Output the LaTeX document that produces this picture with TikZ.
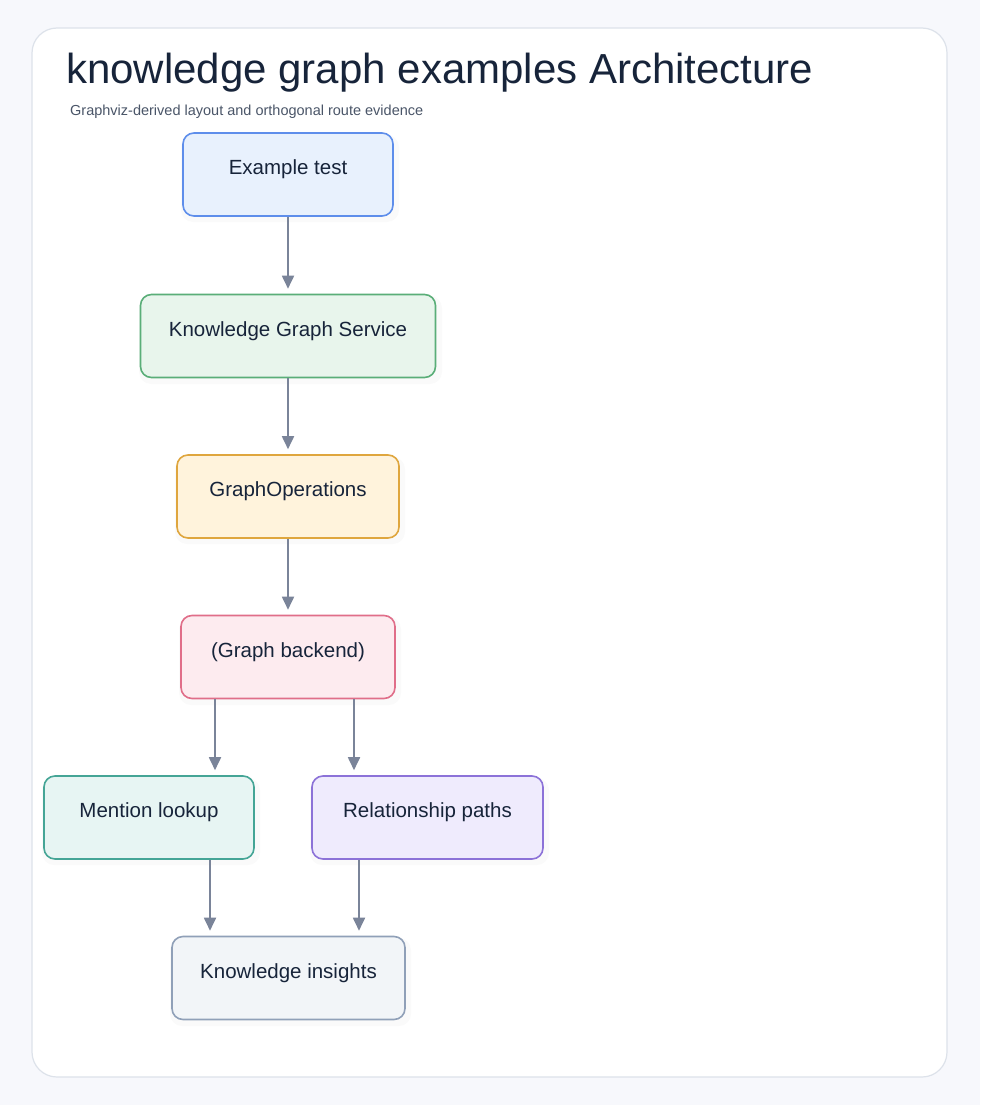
\documentclass[tikz,border=0pt]{standalone}
\usepackage{fontspec}
\setmainfont{Liberation Sans}
\usetikzlibrary{arrows.meta}
\definecolor{bgc}{HTML}{F7F8FC}
\definecolor{panelb}{HTML}{DDE2EA}
\definecolor{ink}{HTML}{17243A}
\definecolor{sub}{HTML}{4A5568}
\definecolor{arrc}{HTML}{7A8499}
\definecolor{f1}{HTML}{E8F1FD}\definecolor{d1}{HTML}{5E8EEB}
\definecolor{f2}{HTML}{E8F5EC}\definecolor{d2}{HTML}{5AAE78}
\definecolor{f3}{HTML}{FFF3DC}\definecolor{d3}{HTML}{DFA63E}
\definecolor{f4}{HTML}{FDEBEF}\definecolor{d4}{HTML}{E06E89}
\definecolor{f5}{HTML}{E7F5F3}\definecolor{d5}{HTML}{45A596}
\definecolor{f6}{HTML}{EFEBFD}\definecolor{d6}{HTML}{8C72D8}
\definecolor{f7}{HTML}{F2F5F8}\definecolor{d7}{HTML}{90A0B8}
\tikzset{
  box/.style={draw=#1, line width=1.6pt, rounded corners=11pt, minimum height=83pt, inner sep=0pt},
  lbl/.style={text=ink, font=\fontsize{20.5}{23}\selectfont},
  shade/.style={fill=black, fill opacity=0.02, rounded corners=12pt},
  arr/.style={draw=arrc, line width=1.8pt, -{Triangle[length=13pt,width=12pt]}, shorten >=5pt}
}
\begin{document}
\begin{tikzpicture}[x=1pt,y=-1pt]
\useasboundingbox (0,0) rectangle (980,1105);
\fill[bgc] (0,0) rectangle (980,1105);
\draw[panelb, line width=1.2pt, fill=white, rounded corners=25pt] (32,28) rectangle (947,1077);
\node[anchor=base west, text=ink, font=\fontsize{42}{46}\selectfont, inner sep=0pt] (title) at (66,84) {knowledge graph examples Architecture};
\node[anchor=base west, text=sub, font=\fontsize{14.5}{16}\selectfont, inner sep=0pt] (subtitle) at (70,116) {Graphviz-derived layout and orthogonal route evidence};
% shadows
\foreach \a/\b/\c/\d in {183/133/393/216, 141/294/436/378, 177/455/399/538, 181/615/395/699, 44/776/254/859, 312/776/543/859, 172/936/405/1020}
  \fill[shade] (\a-2,\b+2) rectangle (\c+6,\d+6);
\node[box=d1, fill=f1, minimum width=210pt, label={[lbl,yshift=5pt]center:Example test}] (ex) at (288,174.5) {};
\node[box=d2, fill=f2, minimum width=295pt, label={[lbl,yshift=5pt]center:Knowledge Graph Service}] (kgs) at (288,336) {};
\node[box=d3, fill=f3, minimum width=222pt, label={[lbl,yshift=5pt]center:GraphOperations}] (gop) at (288,496.5) {};
\node[box=d4, fill=f4, minimum width=214pt, label={[lbl,yshift=5pt]center:(Graph backend)}] (gb) at (288,657) {};
\node[box=d5, fill=f5, minimum width=210pt, label={[lbl,yshift=5pt]center:Mention lookup}] (ml) at (149,817.5) {};
\node[box=d6, fill=f6, minimum width=231pt, label={[lbl,yshift=5pt]center:Relationship paths}] (rp) at (427.5,817.5) {};
\node[box=d7, fill=f7, minimum width=233pt, label={[lbl,yshift=5pt]center:Knowledge insights}] (ki) at (288.5,978) {};
\draw[arr] (ex.south) -- (kgs.north);
\draw[arr] (kgs.south) -- (gop.north);
\draw[arr] (gop.south) -- (gb.north);
\draw[arr] ([xshift=-73pt]gb.south) -- ([xshift=66pt]ml.north);
\draw[arr] ([xshift=66pt]gb.south) -- ([xshift=-73.5pt]rp.north);
\draw[arr] ([xshift=61pt]ml.south) -- ([xshift=-78.5pt]ki.north);
\draw[arr] ([xshift=-68.5pt]rp.south) -- ([xshift=70.5pt]ki.north);
\end{tikzpicture}
\end{document}
